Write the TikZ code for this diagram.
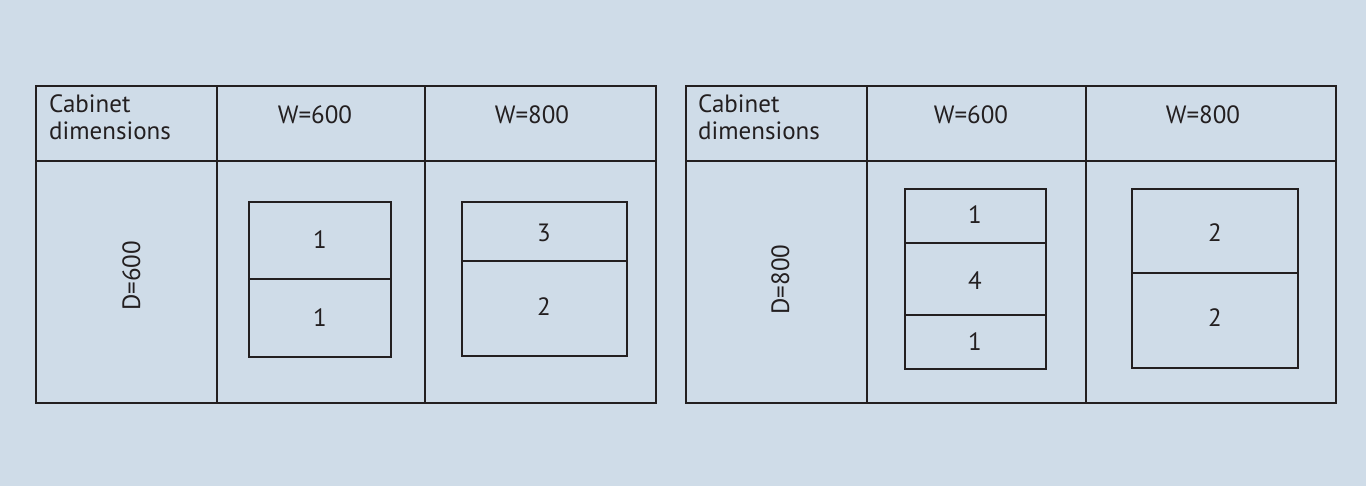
\documentclass[tikz,border=0pt]{standalone}
\usepackage{fontspec}
\setmainfont{PT Sans}
\definecolor{bgblue}{HTML}{CFDCE8}
\definecolor{ink}{HTML}{231F20}
\begin{document}
\begin{tikzpicture}[x=1pt,y=-1pt,
  grid/.style={draw=ink,line width=1.7pt},
  boxline/.style={draw=ink,line width=2.8pt},
  lbl/.style={font=\fontsize{25}{26.7}\selectfont,text=ink,inner sep=0pt},
  num/.style={lbl,anchor=center},
  head/.style={lbl,anchor=base},
  corner/.style={lbl,anchor=base west,align=left,text width=150pt}]
\fill[bgblue] (0,0) rectangle (1366,486);
\useasboundingbox (0,0) rectangle (1366,486);
% ---- left table ----
\draw[grid] (36,86) rectangle (656,403);
\draw[grid] (36,161) -- (656,161);
\draw[grid] (217,86) -- (217,403);
\draw[grid] (425,86) -- (425,403);
\node[corner] (lc) at (49,112.7) {Cabinet\\dimensions};
\node[head] (lw6) at (315,124) {W=600};
\node[head] (lw8) at (532,124) {W=800};
\node[head,rotate=90] (ld) at (140,276) {D=600};
% left W=600 box
\draw[boxline] (249,202) rectangle (391,357);
\draw[boxline] (249,279) -- (391,279);
\node[num] (la1) at (320,240) {1};
\node[num] (la2) at (320,318) {1};
% left W=800 box
\draw[boxline] (462,202) rectangle (627,356);
\draw[boxline] (462,261) -- (627,261);
\node[num] (lb1) at (544,233) {3};
\node[num] (lb2) at (544,307) {2};
% ---- right table ----
\draw[grid] (686,86) rectangle (1336,403);
\draw[grid] (686,161) -- (1336,161);
\draw[grid] (867,86) -- (867,403);
\draw[grid] (1086,86) -- (1086,403);
\node[corner] (rc) at (698,112.7) {Cabinet\\dimensions};
\node[head] (rw6) at (971,124) {W=600};
\node[head] (rw8) at (1203,124) {W=800};
\node[head,rotate=90] (rd) at (789,279.5) {D=800};
% right W=600 box
\draw[boxline] (905,189) rectangle (1046,369);
\draw[boxline] (905,243) -- (1046,243);
\draw[boxline] (905,315) -- (1046,315);
\node[num] (ra1) at (975,215) {1};
\node[num] (ra2) at (975,281) {4};
\node[num] (ra3) at (975,342) {1};
% right W=800 box
\draw[boxline] (1132,189) rectangle (1298,368);
\draw[boxline] (1132,273) -- (1298,273);
\node[num] (rb1) at (1215,233) {2};
\node[num] (rb2) at (1215,318) {2};
\end{tikzpicture}
\end{document}
